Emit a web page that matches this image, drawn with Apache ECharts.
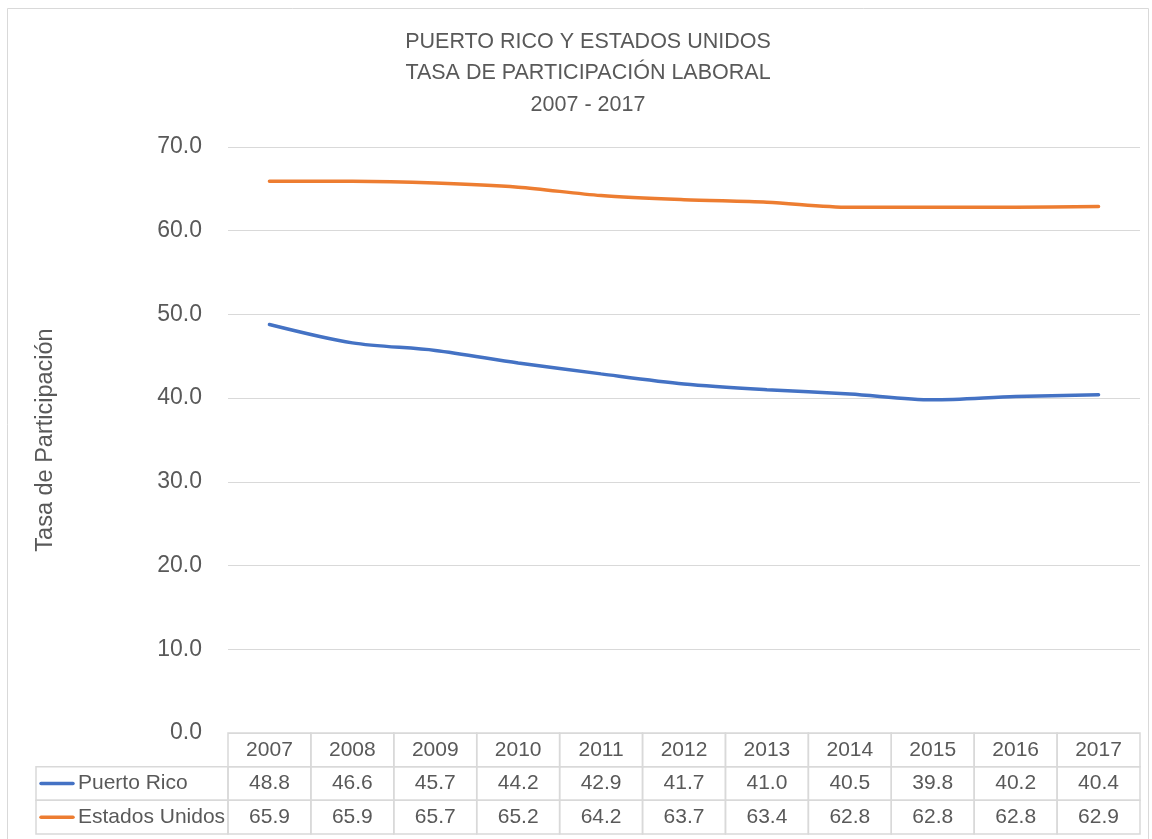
<!DOCTYPE html>
<html><head><meta charset="utf-8">
<script src="https://cdn.jsdelivr.net/npm/echarts@6/dist/echarts.min.js"></script>
<style>html,body{margin:0;padding:0;background:#fff}#c{width:1152px;height:839px}</style>
</head><body><div id="c"></div>
<script>
const years = ['2007','2008','2009','2010','2011','2012','2013','2014','2015','2016','2017'];
const puertoRico = [48.8,46.6,45.7,44.2,42.9,41.7,41.0,40.5,39.8,40.2,40.4];
const estadosUnidos = [65.9,65.9,65.7,65.2,64.2,63.7,63.4,62.8,62.8,62.8,62.9];
const seriesNames = ['Puerto Rico','Estados Unidos'];
const seriesColors = ['#4472C4','#ED7D31'];
const yMin = 0, yMax = 70, yStep = 10;
const titleText = 'PUERTO RICO Y ESTADOS UNIDOS\nTASA DE PARTICIPACIÓN LABORAL\n2007 - 2017';
const yName = 'Tasa de Participación';

const FONT = '"Liberation Sans", Arial, sans-serif';
const TXT = '#595959';
const BORDER = '#d9d9d9';
const LEG = 192 / (912 / 11); // legend column width in column units

// table cells: [col, row]; col -1 = legend column
const cells = [];
const cellText = [];
years.forEach((y, i) => { cells.push([i, 0]); cellText.push(y); });
[puertoRico, estadosUnidos].forEach((arr, s) => {
  cells.push([-1, s + 1]); cellText.push(seriesNames[s]);
  arr.forEach((v, i) => { cells.push([i, s + 1]); cellText.push(v.toFixed(1)); });
});

const chart = echarts.init(document.getElementById('c'), null, {renderer: 'canvas'});
chart.setOption({
  animation: false,
  backgroundColor: '#fff',
  textStyle: {fontFamily: FONT},
  title: {
    text: titleText, left: 583, textAlign: 'center', top: 21,
    textStyle: {fontFamily: FONT, fontSize: 21.5, fontWeight: 'normal', color: TXT, lineHeight: 31.5}
  },
  graphic: [{type: 'rect', shape: {x: 7.5, y: 8.5, width: 1141, height: 840}, style: {fill: 'none', stroke: BORDER, lineWidth: 1}, silent: true}],
  grid: [
    {left: 228, right: 12, top: 147, height: 586, containLabel: false},
    {left: 228 - 192, right: 12, top: 733, height: 101, containLabel: false}
  ],
  xAxis: [
    {type: 'category', gridIndex: 0, data: years, boundaryGap: true,
     axisLine: {show: false}, axisTick: {show: false}, axisLabel: {show: false}, splitLine: {show: false}},
    {type: 'value', gridIndex: 1, min: -LEG, max: years.length, show: false}
  ],
  yAxis: [
    {type: 'value', gridIndex: 0, min: yMin, max: yMax, interval: yStep,
     name: yName, nameLocation: 'middle', nameGap: 170, nameRotate: 90,
     nameTextStyle: {fontFamily: FONT, fontSize: 23.5, color: TXT},
     axisLine: {show: false}, axisTick: {show: false},
     axisLabel: {fontFamily: FONT, fontSize: 23, color: TXT, margin: 26, formatter: v => v.toFixed(1)},
     splitLine: {lineStyle: {color: BORDER, width: 1}}},
    {type: 'category', gridIndex: 1, data: ['h','a','b'], inverse: true, boundaryGap: true, show: false}
  ],
  series: [
    {name: seriesNames[0], type: 'line', xAxisIndex: 0, yAxisIndex: 0, data: puertoRico,
     smooth: 0.3, symbol: 'none', lineStyle: {color: seriesColors[0], width: 3.5, cap: 'round'}},
    {name: seriesNames[1], type: 'line', xAxisIndex: 0, yAxisIndex: 0, data: estadosUnidos,
     smooth: 0.3, symbol: 'none', lineStyle: {color: seriesColors[1], width: 3.5, cap: 'round'}},
    {type: 'custom', xAxisIndex: 1, yAxisIndex: 1, data: cells, silent: true,
     renderItem: function (params, api) {
       const c = api.value(0), r = api.value(1);
       const x0 = api.coord([c < 0 ? -LEG : c, r])[0];
       const x1 = api.coord([c < 0 ? 0 : c + 1, r])[0];
       const yc = api.coord([0, r])[1];
       const h = api.size([0, 1])[1];
       const txt = cellText[params.dataIndex];
       const children = [{
         type: 'rect', shape: {x: x0, y: yc - h / 2, width: x1 - x0, height: h},
         style: {fill: 'none', stroke: BORDER, lineWidth: 1.5}
       }];
       if (c < 0) {
         const s = r - 1;
         children.push({type: 'line', shape: {x1: x0 + 5, y1: yc, x2: x0 + 37, y2: yc},
           style: {stroke: seriesColors[s], lineWidth: 3.5, lineCap: 'round'}});
         children.push({type: 'text', style: {text: txt, x: x0 + 42, y: yc, align: 'left', verticalAlign: 'middle',
           font: '21px ' + FONT, fill: TXT}});
       } else {
         children.push({type: 'text', style: {text: txt, x: (x0 + x1) / 2, y: yc, align: 'center', verticalAlign: 'middle',
           font: '21px ' + FONT, fill: TXT}});
       }
       return {type: 'group', children: children};
     }}
  ]
});
</script></body></html>
